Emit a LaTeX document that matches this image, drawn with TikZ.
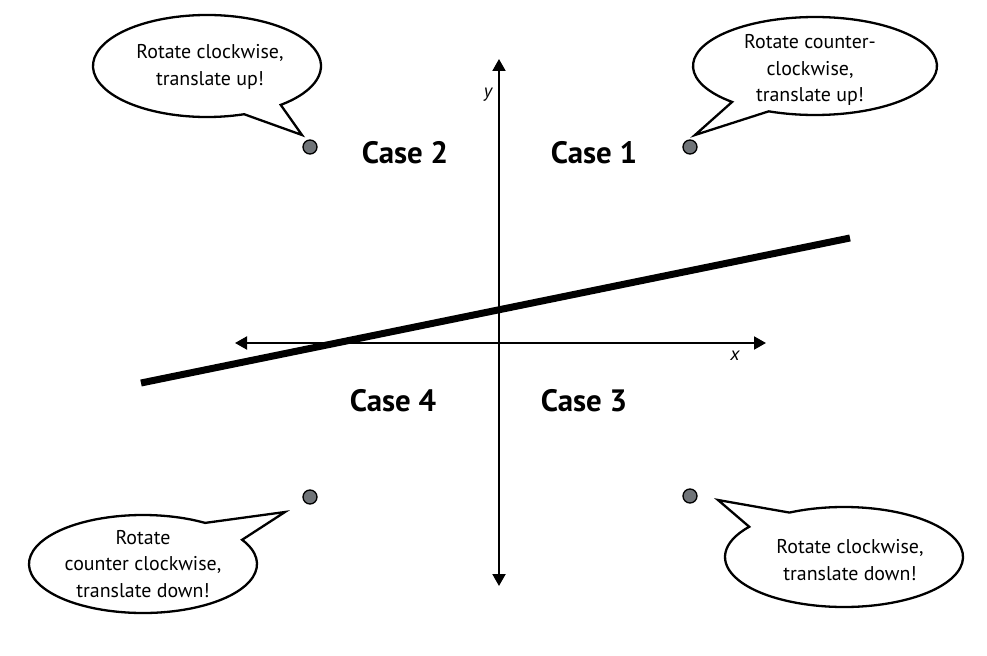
\documentclass[tikz,border=0pt]{standalone}
\usepackage{fontspec}
\setmainfont{PT Sans}
\usetikzlibrary{arrows.meta}
\begin{document}
\begin{tikzpicture}[x=1bp,y=-1bp,
  axis/.style={line width=2bp,{Triangle[length=12bp,width=13bp]}-{Triangle[length=12bp,width=13bp]}},
  bubble/.style={draw=black,fill=white,line width=2.3bp,line join=miter},
  dot/.style={circle,draw=black,fill=dotgray,line width=1.3bp,minimum size=14bp,inner sep=0pt},
  bubtext/.style={align=center,font=\fontsize{20}{26.5}\selectfont,inner sep=0pt},
  casetext/.style={font=\fontsize{31}{33}\selectfont\bfseries,inner sep=0pt},
  axlabel/.style={font=\fontsize{19}{20}\selectfont\itshape,inner sep=0pt}]
\definecolor{dotgray}{RGB}{112,116,120}
\useasboundingbox (0,0) rectangle (987,656);
% axes
\coordinate (yb) at (499,586);
\coordinate (yt) at (499,59);
\coordinate (xl) at (235,343);
\coordinate (xr) at (766,343);
\draw[axis] (yb) -- (yt);
\draw[axis] (xl) -- (xr);
\node[axlabel] (ylab) at (488,95) {y};
\node[axlabel] (xlab) at (735,356) {x};
% thick line
\coordinate (la) at (141,383);
\coordinate (lb) at (850,238);
\draw[line width=7bp] (la) -- (lb);
% case labels
\node[casetext] (c2) at (405,153) {Case 2};
\node[casetext] (c1) at (594,153) {Case 1};
\node[casetext] (c4) at (393,401) {Case 4};
\node[casetext] (c3) at (584,401) {Case 3};
% dots
\node[dot] (d2) at (310,147) {};
\node[dot] (d1) at (690,147) {};
\node[dot] (d4) at (310,497) {};
\node[dot] (d3) at (690,496) {};
% bubbles
\coordinate (tl) at (207,66);
\coordinate (tlt) at (302,135);
\draw[bubble] (tl) ++(71:114 and 51) arc[start angle=71,end angle=409.7,x radius=114,y radius=51] -- (tlt) -- cycle;
\coordinate (tr) at (815,66);
\coordinate (trt) at (695,135);
\draw[bubble] (tr) ++(132.8:122 and 49) arc[start angle=132.8,end angle=472.3,x radius=122,y radius=49] -- (trt) -- cycle;
\coordinate (bl) at (143,564);
\coordinate (blt) at (285,512);
\draw[bubble] (bl) ++(-29.6:114 and 49) arc[start angle=-29.6,end angle=303,x radius=114,y radius=49] -- (blt) -- cycle;
\coordinate (br) at (844,557);
\coordinate (brt) at (718,500);
\draw[bubble] (br) ++(242.7:119 and 50) arc[start angle=242.7,end angle=577.2,x radius=119,y radius=50] -- (brt) -- cycle;
% bubble texts
\node[bubtext] (t2) at (210,67) {Rotate clockwise,\\translate up!};
\node[bubtext] (t1) at (810,70) {Rotate counter-\\clockwise,\\translate up!};
\node[bubtext] (t4) at (143,564) {Rotate\\counter clockwise,\\translate down!};
\node[bubtext] (t3) at (850,560) {Rotate clockwise,\\translate down!};
\end{tikzpicture}
\end{document}
